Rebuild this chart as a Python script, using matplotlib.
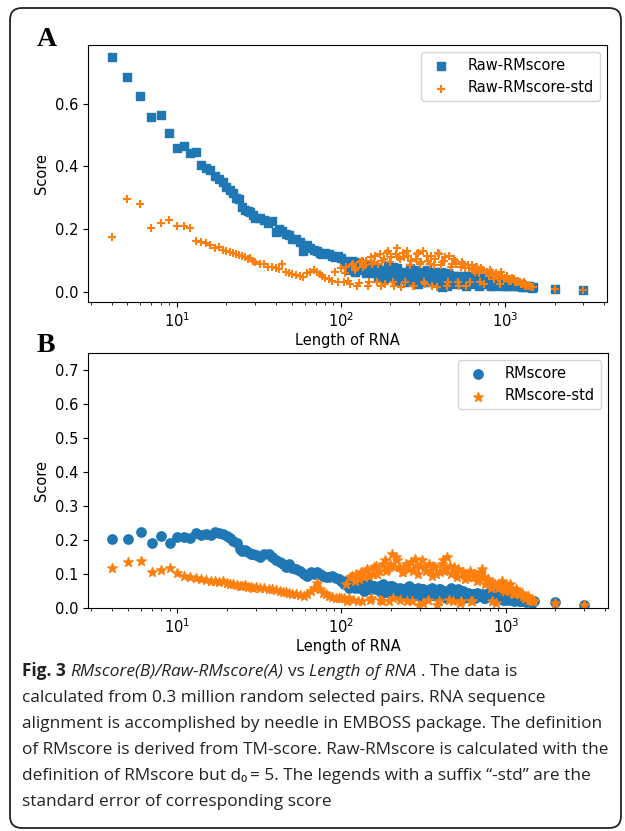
import matplotlib
matplotlib.use("Agg")
import matplotlib.pyplot as plt
from matplotlib.patches import FancyBboxPatch

# ============================================================
# Data
# ============================================================

length = [
    4, 5, 6, 7, 8, 9, 10, 11, 12, 13, 14, 15, 16, 17, 18, 19, 20, 21, 22, 23,
    24, 25, 26, 27, 28, 29, 30,
    32, 34, 36, 38, 40, 42, 44, 46, 48, 50,
    53, 56, 59, 62, 65, 68, 71, 74, 77, 80,
    84, 88, 92, 96, 100,
    104, 108, 113, 118, 123, 128, 134, 140, 146, 152,
    158, 165, 172, 179, 186, 194, 202, 210, 219, 228,
    237, 247, 257, 268, 279, 290, 302, 314, 327, 340,
    354, 368, 383, 398, 414, 431, 448, 466, 485, 504,
    524, 545, 567, 590, 614, 638, 664, 690, 718, 747,
    777, 808, 840, 874, 909, 945, 983, 1020, 1060, 1100,
    1150, 1200, 1250, 1300, 1360, 1420, 1480,
    2000, 3000,
]

raw_rmscore = [
    0.75, 0.686, 0.626, 0.557, 0.565, 0.506, 0.46, 0.465, 0.442, 0.447,
    0.406, 0.395, 0.39, 0.37, 0.36, 0.35, 0.335, 0.325, 0.315, 0.30,
    0.295, 0.27, 0.26, 0.258, 0.255, 0.245, 0.235,
    0.235, 0.23, 0.22, 0.225, 0.19, 0.20, 0.195, 0.185, 0.18, 0.17,
    0.168, 0.16, 0.13, 0.15, 0.14, 0.135, 0.13, 0.125, 0.12, 0.125,
    0.12, 0.115, 0.11, 0.115, 0.108,
    0.10, 0.095, 0.085, 0.09, 0.08, 0.095, 0.075, 0.085, 0.07, 0.08,
    0.06, 0.075, 0.055, 0.07, 0.05, 0.085, 0.06, 0.045, 0.075, 0.055,
    0.04, 0.065, 0.05, 0.035, 0.07, 0.05, 0.04, 0.06, 0.03, 0.055,
    0.045, 0.065, 0.035, 0.05, 0.015, 0.045, 0.06, 0.03, 0.05, 0.035,
    0.045, 0.025, 0.04, 0.03, 0.05, 0.025, 0.035, 0.02, 0.04, 0.03,
    0.025, 0.035, 0.02, 0.03, 0.025, 0.035, 0.02, 0.03, 0.025, 0.02,
    0.03, 0.02, 0.025, 0.015, 0.02, 0.015, 0.015,
    0.01, 0.006,
]

raw_rmscore_std = [
    0.174, 0.295, 0.281, 0.203, 0.219, 0.23, 0.21, 0.21, 0.205, 0.161,
    0.16, 0.155, 0.148, 0.14, 0.142, 0.135, 0.13, 0.128, 0.125, 0.12,
    0.118, 0.115, 0.11, 0.105, 0.108, 0.10, 0.095,
    0.09, 0.088, 0.08, 0.078, 0.075, 0.072, 0.09, 0.065, 0.06, 0.058,
    0.055, 0.05, 0.048, 0.06, 0.065, 0.07, 0.062, 0.058, 0.05, 0.045,
    0.04, 0.035, 0.065, 0.03, 0.075,
    0.03, 0.08, 0.025, 0.09, 0.075, 0.028, 0.10, 0.085, 0.02, 0.11,
    0.095, 0.03, 0.12, 0.10, 0.025, 0.13, 0.11, 0.02, 0.14, 0.105,
    0.125, 0.03, 0.115, 0.10, 0.02, 0.12, 0.09, 0.13, 0.025, 0.10,
    0.115, 0.085, 0.015, 0.12, 0.095, 0.11, 0.03, 0.08, 0.105, 0.09,
    0.02, 0.095, 0.075, 0.085, 0.03, 0.07, 0.08, 0.06, 0.075, 0.025,
    0.065, 0.07, 0.055, 0.06, 0.045, 0.065, 0.04, 0.05, 0.035, 0.045,
    0.03, 0.035, 0.025, 0.03, 0.02, 0.02, 0.015,
    0.008, 0.005,
]

rmscore = [
    0.204, 0.204, 0.224, 0.19, 0.212, 0.19, 0.21, 0.21, 0.205, 0.222,
    0.215, 0.217, 0.215, 0.225, 0.222, 0.218, 0.212, 0.205, 0.198, 0.19,
    0.175, 0.168, 0.17, 0.165, 0.16, 0.158, 0.155,
    0.15, 0.158, 0.16, 0.15, 0.14, 0.135, 0.13, 0.12, 0.128, 0.118,
    0.115, 0.11, 0.10, 0.095, 0.105, 0.10, 0.107, 0.10, 0.095, 0.092,
    0.09, 0.093, 0.088, 0.085, 0.08,
    0.07, 0.075, 0.065, 0.078, 0.068, 0.06, 0.075, 0.065, 0.07, 0.055,
    0.065, 0.06, 0.05, 0.07, 0.06, 0.045, 0.065, 0.055, 0.05, 0.06,
    0.04, 0.055, 0.065, 0.045, 0.05, 0.06, 0.04, 0.055, 0.045, 0.035,
    0.06, 0.05, 0.04, 0.055, 0.045, 0.03, 0.05, 0.06, 0.04, 0.045,
    0.035, 0.05, 0.04, 0.045, 0.03, 0.04, 0.045, 0.035, 0.04, 0.03,
    0.045, 0.035, 0.03, 0.04, 0.03, 0.035, 0.025, 0.035, 0.03, 0.025,
    0.03, 0.02, 0.025, 0.02, 0.025, 0.018, 0.02,
    0.018, 0.009,
]

rmscore_std = [
    0.119, 0.134, 0.139, 0.106, 0.111, 0.119, 0.102, 0.095, 0.092, 0.087,
    0.085, 0.082, 0.08, 0.078, 0.076, 0.078, 0.074, 0.072, 0.07, 0.068,
    0.066, 0.065, 0.067, 0.063, 0.062, 0.06, 0.061,
    0.058, 0.06, 0.057, 0.055, 0.052, 0.05, 0.048, 0.046, 0.045, 0.042,
    0.04, 0.038, 0.036, 0.04, 0.05, 0.06, 0.073, 0.055, 0.045, 0.04,
    0.035, 0.032, 0.03, 0.028, 0.03,
    0.028, 0.02, 0.09, 0.025, 0.10, 0.085, 0.02, 0.11, 0.095, 0.03,
    0.12, 0.10, 0.025, 0.13, 0.11, 0.02, 0.16, 0.12, 0.14, 0.025,
    0.105, 0.13, 0.115, 0.02, 0.145, 0.10, 0.125, 0.015, 0.11, 0.13,
    0.095, 0.12, 0.01, 0.105, 0.14, 0.115, 0.025, 0.10, 0.12, 0.09,
    0.015, 0.105, 0.085, 0.095, 0.02, 0.09, 0.08, 0.10, 0.115, 0.07,
    0.085, 0.06, 0.075, 0.015, 0.07, 0.08, 0.05, 0.065, 0.07, 0.045,
    0.055, 0.04, 0.045, 0.03, 0.035, 0.025, 0.02,
    0.015, 0.008,
]

# extra lengths in the crowded 100-1500 range
length_dense = [
    106, 111, 116, 121, 126, 131, 137, 143, 149, 155,
    162, 169, 176, 183, 190, 198, 206, 215, 224, 233,
    242, 252, 263, 274, 285, 296, 308, 321, 334, 347,
    361, 376, 391, 406, 422, 440, 457, 476, 495, 514,
    535, 556, 579, 602, 626, 651, 677, 704, 733, 762,
    793, 824, 857, 892, 927, 964, 1000, 1040, 1080, 1125,
    1175, 1225, 1275, 1330, 1390, 1450,
]

raw_rmscore_dense = [
    0.09, 0.07, 0.10, 0.065, 0.085, 0.07, 0.09, 0.06, 0.08, 0.065,
    0.08, 0.05, 0.065, 0.045, 0.07, 0.055, 0.08, 0.035, 0.065, 0.045,
    0.06, 0.03, 0.075, 0.045, 0.06, 0.025, 0.065, 0.045, 0.07, 0.04,
    0.03, 0.055, 0.045, 0.065, 0.04, 0.02, 0.055, 0.04, 0.025, 0.05,
    0.035, 0.05, 0.02, 0.045, 0.035, 0.04, 0.03, 0.045, 0.025, 0.035,
    0.03, 0.02, 0.035, 0.025, 0.03, 0.02, 0.03, 0.02, 0.025, 0.03,
    0.02, 0.025, 0.015, 0.02, 0.018, 0.012,
]

raw_rmscore_std_dense = [
    0.06, 0.035, 0.085, 0.07, 0.02, 0.095, 0.08, 0.10, 0.03, 0.09,
    0.115, 0.09, 0.02, 0.105, 0.125, 0.095, 0.03, 0.12, 0.11, 0.015,
    0.11, 0.13, 0.085, 0.02, 0.105, 0.125, 0.095, 0.03, 0.115, 0.09,
    0.02, 0.105, 0.125, 0.085, 0.10, 0.02, 0.115, 0.09, 0.10, 0.03,
    0.08, 0.09, 0.02, 0.075, 0.085, 0.065, 0.08, 0.03, 0.07, 0.06,
    0.05, 0.065, 0.04, 0.055, 0.025, 0.05, 0.045, 0.04, 0.035, 0.04,
    0.03, 0.03, 0.025, 0.02, 0.02, 0.015,
]

rmscore_dense = [
    0.078, 0.06, 0.072, 0.058, 0.07, 0.062, 0.05, 0.068, 0.055, 0.065,
    0.055, 0.065, 0.045, 0.06, 0.05, 0.065, 0.045, 0.06, 0.04, 0.055,
    0.05, 0.06, 0.04, 0.055, 0.045, 0.035, 0.055, 0.05, 0.04, 0.055,
    0.045, 0.035, 0.055, 0.04, 0.05, 0.045, 0.035, 0.05, 0.04, 0.055,
    0.04, 0.03, 0.045, 0.035, 0.04, 0.03, 0.04, 0.035, 0.03, 0.04,
    0.035, 0.04, 0.025, 0.035, 0.03, 0.025, 0.03, 0.025, 0.03, 0.022,
    0.025, 0.02, 0.022, 0.018, 0.02, 0.015,
]

rmscore_std_dense = [
    0.07, 0.03, 0.095, 0.08, 0.02, 0.105, 0.09, 0.115, 0.025, 0.10,
    0.125, 0.11, 0.02, 0.14, 0.115, 0.13, 0.03, 0.15, 0.12, 0.105,
    0.12, 0.02, 0.135, 0.11, 0.125, 0.01, 0.14, 0.12, 0.025, 0.11,
    0.125, 0.10, 0.02, 0.13, 0.11, 0.15, 0.125, 0.02, 0.105, 0.115,
    0.02, 0.10, 0.09, 0.11, 0.02, 0.10, 0.085, 0.105, 0.09, 0.08,
    0.075, 0.02, 0.07, 0.06, 0.075, 0.055, 0.065, 0.05, 0.06, 0.04,
    0.05, 0.04, 0.035, 0.03, 0.025, 0.02,
]

caption_lines = [
    "calculated from 0.3 million random selected pairs. RNA sequence",
    "alignment is accomplished by needle in EMBOSS package. The definition",
    "of RMscore is derived from TM-score. Raw-RMscore is calculated with the",
    "definition of RMscore but d\u2080\u2009= 5. The legends with a suffix \u201c-std\u201d are the",
    "standard error of corresponding score",
]

BLUE = "#1f77b4"
ORANGE = "#ff7f0e"
W, H = 625, 831

plt.rcParams["font.family"] = "DejaVu Sans"
plt.rcParams["font.size"] = 10.5
plt.rcParams["mathtext.fontset"] = "dejavusans"

CAP_FONT = ["Open Sans", "Noto Sans", "DejaVu Sans"]
CAP_SIZE = 12.4

fig = plt.figure(figsize=(W / 100, H / 100), dpi=100)

# rounded frame around the whole figure
frame = FancyBboxPatch(
    (0.10, 0.03), 6.11, 8.20,
    boxstyle="round,pad=0,rounding_size=0.12",
    transform=fig.dpi_scale_trans, fill=False, lw=1.3, ec="#222222",
)
fig.patches.append(frame)


def px_axes(left, top, right, bottom):
    return fig.add_axes([left / W, 1 - bottom / H, (right - left) / W, (bottom - top) / H])


# ---- panel A ----
ax_a = px_axes(88, 45, 607, 302)
ax_a.scatter(length + length_dense, raw_rmscore + raw_rmscore_dense,
             marker="s", s=40, color=BLUE, label="Raw-RMscore")
ax_a.scatter(length + length_dense, raw_rmscore_std + raw_rmscore_std_dense,
             marker="+", s=40, color=ORANGE, label="Raw-RMscore-std")
ax_a.set_xscale("log")
ax_a.set_yticks([0.0, 0.2, 0.4, 0.6])
ax_a.set_xlabel("Length of RNA", labelpad=2)
ax_a.set_ylabel("Score")
ax_a.legend(loc="upper right")

# ---- panel B ----
ax_b = px_axes(88, 353, 608, 608)
ax_b.scatter(length + length_dense, rmscore + rmscore_dense,
             marker="o", s=45, color=BLUE, label="RMscore")
ax_b.scatter(length + length_dense, rmscore_std + rmscore_std_dense,
             marker="*", s=50, color=ORANGE, label="RMscore-std")
ax_b.set_xscale("log")
ax_b.set_ylim(0, 0.75)
ax_b.set_xlabel("Length of RNA", labelpad=2)
ax_b.set_ylabel("Score")
ax_b.legend(loc="upper right")

# panel letters
fig.text(37 / W, 1 - 46 / H, "A", family="Liberation Serif", weight="bold", fontsize=20, va="baseline")
fig.text(37 / W, 1 - 352 / H, "B", family="Liberation Serif", weight="bold", fontsize=20, va="baseline")

# ---- caption ----
renderer = fig.canvas.get_renderer()


def text_width(s, **kw):
    t = fig.text(0, 0, s, **kw)
    w = t.get_window_extent(renderer=renderer).width
    t.remove()
    return w


cap_kw = dict(family=CAP_FONT, fontsize=CAP_SIZE, color="#222222", va="baseline")
space = text_width("a a", **cap_kw) - text_width("aa", **cap_kw)

first_line = [
    ("Fig. 3", dict(weight="bold")),
    ("RMscore(B)/Raw-RMscore(A)", dict(style="italic")),
    ("vs", dict()),
    ("Length of RNA", dict(style="italic")),
    (". The data is", dict()),
]
x = 22
y0 = 676
for piece, extra in first_line:
    kw = dict(cap_kw, **extra)
    fig.text(x / W, 1 - y0 / H, piece, **kw)
    x += text_width(piece, **kw) + space

for i, line in enumerate(caption_lines):
    fig.text(22 / W, 1 - (y0 + 26.1 * (i + 1)) / H, line, **cap_kw)

fig.savefig("out.png", dpi=100)
